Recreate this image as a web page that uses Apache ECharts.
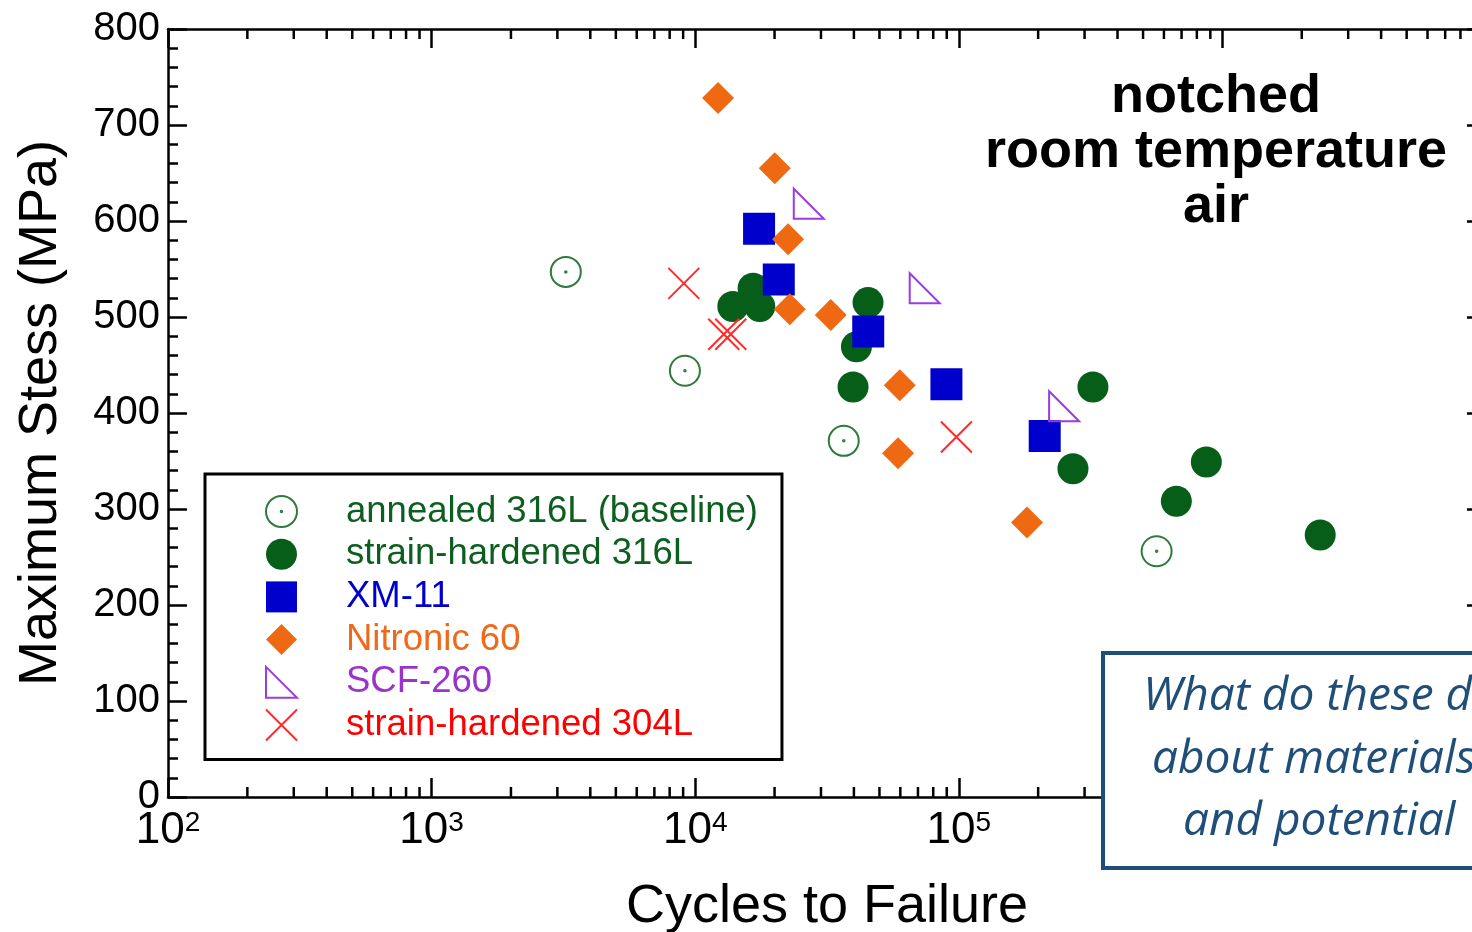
<!DOCTYPE html>
<html>
<head>
<meta charset="utf-8">
<title>Maximum Stress vs Cycles to Failure</title>
<script src="https://cdn.jsdelivr.net/npm/echarts@6/dist/echarts.min.js"></script>
<style>
  html, body { margin: 0; padding: 0; background: #fff; }
  #chart { width: 1472px; height: 932px; }
</style>
</head>
<body>
<div id="chart"></div>
<script>
// Fatigue data: [cycles to failure, maximum stress (MPa)]
const annealed316L = [[3230, 547], [9140, 444], [36600, 371], [563000, 256]];
const strainHardened316L = [
  [13890, 511], [16580, 530], [17580, 511], [45260, 515], [40900, 469], [39700, 427],
  [322700, 427], [271100, 342], [869000, 349], [668800, 308], [2350000, 273]
];
const xm11 = [[17470, 592], [20750, 539], [45330, 485], [89750, 430], [211800, 376]];
const nitronic60 = [
  [12210, 728], [20040, 655], [22500, 581], [22840, 508], [32680, 502],
  [59700, 429], [58820, 358], [181400, 286]
];
const scf260 = [[26970, 618], [74250, 530], [250900, 407]];
const strainHardened304L = [[9055, 535], [12835, 482], [13645, 482], [97930, 375]];

const seriesNames = [
  'annealed 316L (baseline)',
  'strain-hardened 316L',
  'XM-11',
  'Nitronic 60',
  'SCF-260',
  'strain-hardened 304L'
];

// Axis ranges and minor log ticks (2..9 within each decade)
const xMin = 1e2, xMax = 1e7;
const yMin = 0, yMax = 800, yStep = 100;
const decades = [2, 3, 4, 5, 6];
const minorMultipliers = [2, 3, 4, 5, 6, 7, 8, 9];
const xMinorTicks = [];
decades.forEach(function (d) {
  minorMultipliers.forEach(function (m) { xMinorTicks.push([m * Math.pow(10, d), 0]); });
});

const annotationLines = ['notched', 'room temperature', 'air'];
const questionLines = ['What do these data', 'about materials', 'and potential'];

const FONT = '"Liberation Sans", Arial, Helvetica, sans-serif';
const C = {
  annealed: '#2f7a3c',
  hardened316: '#075e19',
  xm11: '#0000cc',
  nitronic: '#ef6912',
  scf: '#9a3de0',
  hardened304: '#ff2a2a',
  boxBlue: '#1f4e79'
};
const legendTextColors = ['#0d5f1f', '#0d5f1f', '#0000cc', '#ee6a1a', '#9933cc', '#ff0000'];

const ringWithDot = 'path://M0,16A16,16,0,1,0,32,16A16,16,0,1,0,0,16ZM15.2,16A0.8,0.8,0,1,0,16.8,16A0.8,0.8,0,1,0,15.2,16Z';
const rightTriangle = 'path://M0,0L0,32L32,32Z';
const crossMark = 'path://M0,0L32,32M32,0L0,32';

const tickLine = { color: '#000', width: 2.5 };

function xAxisBase(position, showLabel) {
  return {
    type: 'log',
    logBase: 10,
    min: xMin,
    max: xMax,
    splitNumber: 5,
    position: position,
    axisLine: { show: true, onZero: false, lineStyle: { color: '#000', width: 2.5 } },
    axisTick: { show: true, inside: true, length: 19, lineStyle: tickLine },
    minorTick: { show: false },
    splitLine: { show: false },
    axisLabel: showLabel ? {
      margin: 12,
      formatter: function (v) {
        return '{b|10}{s|' + Math.round(Math.log10(v)) + '}';
      },
      rich: {
        b: { fontSize: 44, fontFamily: FONT, color: '#000' },
        s: { fontSize: 28, fontFamily: FONT, color: '#000', verticalAlign: 'top' }
      }
    } : { show: false }
  };
}

function yAxisBase(position, showLabel) {
  return {
    type: 'value',
    min: yMin,
    max: yMax,
    interval: yStep,
    position: position,
    axisLine: { show: true, onZero: false, lineStyle: { color: '#000', width: 2.5 } },
    axisTick: { show: true, inside: true, length: 19, lineStyle: tickLine },
    minorTick: { show: true, splitNumber: 5, length: 10, lineStyle: tickLine },
    splitLine: { show: false },
    axisLabel: showLabel ? {
      margin: 8, fontSize: 40, fontFamily: FONT, color: '#000'
    } : { show: false }
  };
}

const xBottom = xAxisBase('bottom', true);
xBottom.name = 'Cycles to Failure';
xBottom.nameLocation = 'middle';
xBottom.nameGap = 83;
xBottom.nameTextStyle = { fontSize: 54, fontFamily: FONT, color: '#000' };

const yLeft = yAxisBase('left', true);
yLeft.name = 'Maximum Stess (MPa)';
yLeft.nameLocation = 'middle';
yLeft.nameGap = 100;
yLeft.nameTextStyle = { fontSize: 54, fontFamily: FONT, color: '#000' };

const chart = echarts.init(document.getElementById('chart'), null, { renderer: 'canvas' });

const option = {
  backgroundColor: '#fff',
  animation: false,
  grid: {
    left: 168, top: 29, width: 1318, height: 768,
    containLabel: false, outerBoundsMode: 'none'
  },
  xAxis: [xBottom, xAxisBase('top', false)],
  yAxis: [yLeft, yAxisBase('right', false)],
  legend: {
    orient: 'vertical',
    left: 205,
    top: 474,
    selectedMode: false,
    backgroundColor: '#fff',
    borderColor: '#000',
    borderWidth: 3,
    padding: [19, 24, 16, 60],
    itemGap: 5.7,
    itemWidth: 31,
    itemHeight: 31,
    textStyle: { fontSize: 36.5, fontFamily: FONT, lineHeight: 36, padding: [0, 0, 0, 44] },
    data: seriesNames.map(function (n, i) {
      return { name: n, textStyle: { color: legendTextColors[i] } };
    })
  },
  series: [
    {
      // minor decade ticks, drawn on the top/right axis pair (same ranges as bottom/left)
      type: 'custom',
      name: 'minor ticks',
      silent: true,
      clip: false,
      xAxisIndex: 1,
      yAxisIndex: 1,
      encode: { x: 0, y: 1 },
      data: xMinorTicks,
      renderItem: function (params, api) {
        const v = api.value(0);
        const b = api.coord([v, yMin]);
        const t = api.coord([v, yMax]);
        return {
          type: 'group',
          children: [
            { type: 'line', shape: { x1: b[0], y1: b[1], x2: b[0], y2: b[1] - 10 }, style: { stroke: '#000', lineWidth: 2.5 } },
            { type: 'line', shape: { x1: t[0], y1: t[1], x2: t[0], y2: t[1] + 10 }, style: { stroke: '#000', lineWidth: 2.5 } }
          ]
        };
      }
    },
    {
      type: 'scatter', name: seriesNames[0], data: annealed316L,
      symbol: ringWithDot, symbolSize: 30,
      itemStyle: { color: 'rgba(0,0,0,0)', borderColor: C.annealed, borderWidth: 2, opacity: 1 }
    },
    {
      type: 'scatter', name: seriesNames[1], data: strainHardened316L,
      symbol: 'circle', symbolSize: 31,
      itemStyle: { color: C.hardened316, opacity: 1 }
    },
    {
      type: 'scatter', name: seriesNames[2], data: xm11,
      symbol: 'rect', symbolSize: 32,
      itemStyle: { color: C.xm11, opacity: 1 }
    },
    {
      type: 'scatter', name: seriesNames[3], data: nitronic60,
      symbol: 'diamond', symbolSize: 32,
      itemStyle: { color: C.nitronic, opacity: 1 }
    },
    {
      type: 'scatter', name: seriesNames[4], data: scf260,
      symbol: rightTriangle, symbolSize: 30,
      itemStyle: { color: 'rgba(0,0,0,0)', borderColor: C.scf, borderWidth: 2, opacity: 1 }
    },
    {
      type: 'scatter', name: seriesNames[5], data: strainHardened304L,
      symbol: crossMark, symbolSize: 31,
      itemStyle: { color: 'rgba(0,0,0,0)', borderColor: C.hardened304, borderWidth: 2, opacity: 1 }
    }
  ],
  graphic: [
    {
      type: 'text', x: 1216, y: 152, z: 50,
      style: {
        text: annotationLines.join('\n'),
        fontSize: 54, fontWeight: 'bold', fontFamily: FONT,
        lineHeight: 55, align: 'center', verticalAlign: 'middle', fill: '#000'
      }
    },
    {
      type: 'rect', z: 100,
      shape: { x: 1103, y: 653, width: 420, height: 215 },
      style: { fill: '#fff', stroke: C.boxBlue, lineWidth: 4 }
    },
    {
      type: 'text', x: 1143, y: 697, z: 101,
      style: { text: questionLines[0], fontSize: 46, fontStyle: 'italic', fontFamily: '"Open Sans", sans-serif', fill: C.boxBlue, align: 'left', verticalAlign: 'middle' }
    },
    {
      type: 'text', x: 1152, y: 760, z: 101,
      style: { text: questionLines[1], fontSize: 46, fontStyle: 'italic', fontFamily: '"Open Sans", sans-serif', fill: C.boxBlue, align: 'left', verticalAlign: 'middle' }
    },
    {
      type: 'text', x: 1183, y: 822, z: 101,
      style: { text: questionLines[2], fontSize: 46, fontStyle: 'italic', fontFamily: '"Open Sans", sans-serif', fill: C.boxBlue, align: 'left', verticalAlign: 'middle' }
    }
  ]
};

chart.setOption(option);
</script>
</body>
</html>
